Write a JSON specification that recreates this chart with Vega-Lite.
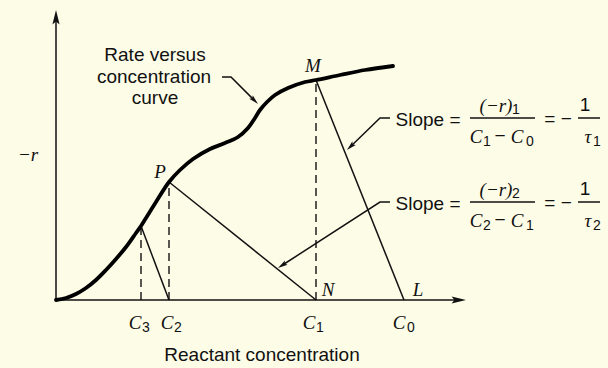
{
  "$schema": "https://vega.github.io/schema/vega-lite/v6.json",
  "width": 608,
  "height": 368,
  "autosize": {"type": "fit", "contains": "padding"},
  "padding": 0,
  "background": "#fdfce7",
  "config": {"view": {"stroke": null}},
  "datasets": {
    "curve": [
      {"x": 0, "y": 0}, {"x": 10, "y": 2}, {"x": 20, "y": 6}, {"x": 30, "y": 12},
      {"x": 40, "y": 20}, {"x": 50, "y": 30}, {"x": 60, "y": 41}, {"x": 70, "y": 53},
      {"x": 80, "y": 67}, {"x": 85, "y": 74}, {"x": 90, "y": 82}, {"x": 100, "y": 98},
      {"x": 113, "y": 118}, {"x": 124, "y": 130}, {"x": 137, "y": 141}, {"x": 154, "y": 151},
      {"x": 169, "y": 157}, {"x": 182, "y": 163}, {"x": 192, "y": 172}, {"x": 199, "y": 182},
      {"x": 204, "y": 190}, {"x": 211, "y": 198}, {"x": 219, "y": 205}, {"x": 232, "y": 212},
      {"x": 249, "y": 218}, {"x": 260, "y": 220}, {"x": 284, "y": 225}, {"x": 309, "y": 230},
      {"x": 337, "y": 234}
    ],
    "lines": [
      {"id": "yaxis", "o": 1, "x": 0, "y": 0}, {"id": "yaxis", "o": 2, "x": 0, "y": 284},
      {"id": "xaxis", "o": 1, "x": 0, "y": 0}, {"id": "xaxis", "o": 2, "x": 404, "y": 0},
      {"id": "c3c2", "o": 1, "x": 85, "y": 74}, {"id": "c3c2", "o": 2, "x": 113, "y": 0},
      {"id": "pn", "o": 1, "x": 113, "y": 118}, {"id": "pn", "o": 2, "x": 260, "y": 0},
      {"id": "ml", "o": 1, "x": 260, "y": 220}, {"id": "ml", "o": 2, "x": 348, "y": 0},
      {"id": "lead0", "o": 1, "x": 166, "y": 223}, {"id": "lead0", "o": 2, "x": 175, "y": 223}, {"id": "lead0", "o": 3, "x": 198.1, "y": 199.9},
      {"id": "lead1", "o": 1, "x": 334, "y": 182}, {"id": "lead1", "o": 2, "x": 324, "y": 182}, {"id": "lead1", "o": 3, "x": 294.9, "y": 153.8},
      {"id": "lead2", "o": 1, "x": 334, "y": 98}, {"id": "lead2", "o": 2, "x": 324, "y": 98}, {"id": "lead2", "o": 3, "x": 226.6, "y": 35},
      {"id": "bar1", "o": 1, "x": 414, "y": 182}, {"id": "bar1", "o": 2, "x": 479, "y": 182},
      {"id": "bar1t", "o": 1, "x": 522, "y": 182}, {"id": "bar1t", "o": 2, "x": 544, "y": 182},
      {"id": "bar2", "o": 1, "x": 414, "y": 98}, {"id": "bar2", "o": 2, "x": 479, "y": 98},
      {"id": "bar2t", "o": 1, "x": 522, "y": 98}, {"id": "bar2t", "o": 2, "x": 544, "y": 98}
    ],
    "dashed": [
      {"id": "d3", "x": 85, "y": 0}, {"id": "d3", "x": 85, "y": 74},
      {"id": "d2", "x": 113, "y": 0}, {"id": "d2", "x": 113, "y": 118},
      {"id": "d1", "x": 260, "y": 0}, {"id": "d1", "x": 260, "y": 220}
    ],
    "bigArrows": [
      {"x": 0, "y": 282, "angle": 0},
      {"x": 402, "y": 0, "angle": 90}
    ],
    "smallArrows": [
      {"x": 198.1, "y": 199.9, "angle": 135},
      {"x": 294.9, "y": 153.8, "angle": 226},
      {"x": 226.6, "y": 35, "angle": 237}
    ],
    "sans": [
      {"t": "Rate versus", "x": 99, "y": 245},
      {"t": "concentration", "x": 98, "y": 223},
      {"t": "curve", "x": 99, "y": 202},
      {"t": "Reactant concentration", "x": 206, "y": -55},
      {"t": "Slope =", "x": 372, "y": 180},
      {"t": "Slope =", "x": 372, "y": 96},
      {"t": "= −", "x": 502, "y": 181},
      {"t": "= −", "x": 502, "y": 97},
      {"t": "1", "x": 529, "y": 195},
      {"t": "1", "x": 529, "y": 111},
      {"t": "−", "x": 444, "y": 164},
      {"t": "−", "x": 444, "y": 80}
    ],
    "subs": [
      {"t": "3", "x": 90, "y": -28}, {"t": "2", "x": 122, "y": -28},
      {"t": "1", "x": 264, "y": -28}, {"t": "0", "x": 355, "y": -28},
      {"t": "1", "x": 460, "y": 190}, {"t": "1", "x": 431, "y": 158},
      {"t": "0", "x": 474, "y": 158}, {"t": "1", "x": 541, "y": 158},
      {"t": "2", "x": 460, "y": 106}, {"t": "2", "x": 431, "y": 74},
      {"t": "1", "x": 474, "y": 74}, {"t": "2", "x": 541, "y": 74}
    ],
    "serif": [
      {"t": "−r", "x": -28, "y": 145},
      {"t": "P", "x": 104, "y": 128},
      {"t": "M", "x": 257, "y": 234},
      {"t": "N", "x": 272, "y": 10},
      {"t": "L", "x": 362, "y": 10},
      {"t": "C", "x": 79, "y": -23}, {"t": "C", "x": 111, "y": -23},
      {"t": "C", "x": 253, "y": -23}, {"t": "C", "x": 343, "y": -23},
      {"t": "(−r)", "x": 440, "y": 194}, {"t": "C", "x": 420, "y": 163},
      {"t": "C", "x": 461, "y": 163}, {"t": "τ", "x": 532, "y": 163},
      {"t": "(−r)", "x": 440, "y": 110}, {"t": "C", "x": 420, "y": 79},
      {"t": "C", "x": 461, "y": 79}, {"t": "τ", "x": 532, "y": 79}
    ]
  },
  "encoding": {
    "x": {"field": "x", "type": "quantitative", "scale": {"domain": [-56, 552], "nice": false, "zero": false}, "axis": null},
    "y": {"field": "y", "type": "quantitative", "scale": {"domain": [-68, 300], "nice": false, "zero": false}, "axis": null}
  },
  "layer": [
    {
      "data": {"name": "dashed"},
      "mark": {"type": "line", "stroke": "#111", "strokeWidth": 1.4, "strokeDash": [8, 5]},
      "encoding": {"detail": {"field": "id"}}
    },
    {
      "data": {"name": "lines"},
      "mark": {"type": "line", "stroke": "#111", "strokeWidth": 1.5},
      "encoding": {"detail": {"field": "id"}, "order": {"field": "o"}}
    },
    {
      "data": {"name": "curve"},
      "mark": {"type": "line", "stroke": "#000", "strokeWidth": 3.8, "interpolate": "catmull-rom", "strokeCap": "round"},
      "encoding": {}
    },
    {
      "data": {"name": "bigArrows"},
      "mark": {"type": "point", "shape": "M0,-1L0.45,0.8L0,0.45L-0.45,0.8Z", "size": 256, "filled": true, "color": "#111", "opacity": 1},
      "encoding": {"angle": {"field": "angle", "type": "quantitative", "scale": null}}
    },
    {
      "data": {"name": "smallArrows"},
      "mark": {"type": "point", "shape": "M0,-1L0.45,0.8L0,0.45L-0.45,0.8Z", "size": 121, "filled": true, "color": "#111", "opacity": 1},
      "encoding": {"angle": {"field": "angle", "type": "quantitative", "scale": null}}
    },
    {
      "data": {"name": "sans"},
      "mark": {"type": "text", "font": "Liberation Sans", "fontSize": 19, "baseline": "middle", "align": "center", "color": "#111"},
      "encoding": {"text": {"field": "t"}}
    },
    {
      "data": {"name": "subs"},
      "mark": {"type": "text", "font": "Liberation Sans", "fontSize": 14, "baseline": "middle", "align": "center", "color": "#111"},
      "encoding": {"text": {"field": "t"}}
    },
    {
      "data": {"name": "serif"},
      "mark": {"type": "text", "font": "Liberation Serif", "fontStyle": "italic", "fontSize": 19, "baseline": "middle", "align": "center", "color": "#111"},
      "encoding": {"text": {"field": "t"}}
    }
  ]
}
